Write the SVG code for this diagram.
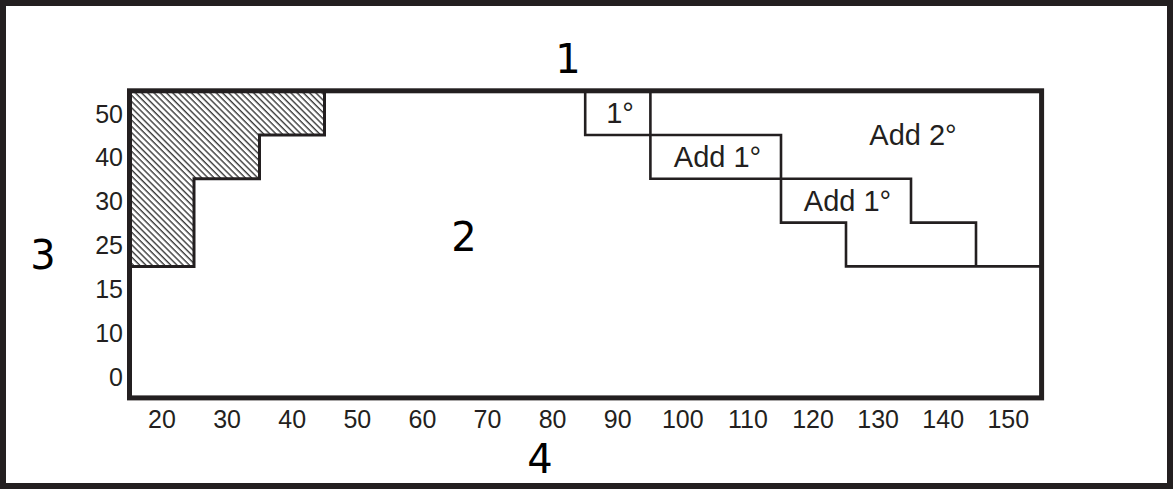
<svg xmlns="http://www.w3.org/2000/svg" width="1173" height="489" viewBox="0 0 1173 489">
<style>
.frame{fill:#fff;stroke:#231f20;stroke-width:6}
.chart{fill:none;stroke:#231f20;stroke-width:5}
.step{fill:none;stroke:#231f20;stroke-width:2.6;stroke-linecap:square}
.hatch{fill:url(#diag);stroke:#231f20;stroke-width:3}
.ax{font-family:"Liberation Sans",Arial,sans-serif;font-size:25px;fill:#231f20}
.lbl{font-family:"Liberation Sans",Arial,sans-serif;font-size:29px;fill:#231f20;text-anchor:middle}
.big{font-family:"DejaVu Sans",sans-serif;font-size:40px;fill:#000;text-anchor:middle}
</style>
<defs>
<pattern id="diag" patternUnits="userSpaceOnUse" width="10" height="4.4" patternTransform="rotate(45)">
<rect x="0" y="0" width="10" height="1.4" fill="#3a3a3a"/>
</pattern>
</defs>
<rect class="frame" x="3" y="3" width="1167" height="483"/>
<g id="hatched-area">
<polygon class="hatch" points="129.5,90.8 324.5,90.8 324.5,135 259.5,135 259.5,178.7 194,178.7 194,266.5 129.5,266.5"/>
</g>
<g id="connectors">
<path class="step" d="M585.2,90.8V135H781V222.6H846V266.4H1041.6M650.4,90.8V178.7H911V222.6H976V266.4"/>
</g>
<g id="chart-frame">
<rect class="chart" x="129.5" y="90.8" width="912.1" height="307.1"/>
</g>
<g id="zone-1deg"><text class="lbl" x="620" y="123">1°</text></g>
<g id="zone-add1-a"><text class="lbl" x="717.5" y="167">Add 1°</text></g>
<g id="zone-add1-b"><text class="lbl" x="847.5" y="210.5">Add 1°</text></g>
<g id="zone-add2"><text class="lbl" x="913" y="145">Add 2°</text></g>
<g id="y-axis" class="ax" text-anchor="end">
<text x="123" y="122.5">50</text>
<text x="123" y="166.3">40</text>
<text x="123" y="210.2">30</text>
<text x="123" y="254">25</text>
<text x="123" y="297.9">15</text>
<text x="123" y="341.7">10</text>
<text x="123" y="385.6">0</text>
</g>
<g id="x-axis" class="ax" text-anchor="middle">
<text x="162" y="427.5">20</text>
<text x="227.1" y="427.5">30</text>
<text x="292.2" y="427.5">40</text>
<text x="357.3" y="427.5">50</text>
<text x="422.4" y="427.5">60</text>
<text x="487.5" y="427.5">70</text>
<text x="552.6" y="427.5">80</text>
<text x="617.7" y="427.5">90</text>
<text x="682.8" y="427.5">100</text>
<text x="747.9" y="427.5">110</text>
<text x="813" y="427.5">120</text>
<text x="878.1" y="427.5">130</text>
<text x="943.2" y="427.5">140</text>
<text x="1008.3" y="427.5">150</text>
</g>
<g id="label-1"><text class="big" x="568" y="72.5">1</text></g>
<g id="label-2"><text class="big" x="464" y="250.5">2</text></g>
<g id="label-3"><text class="big" x="43" y="269">3</text></g>
<g id="label-4"><text class="big" x="540" y="473">4</text></g>
</svg>
